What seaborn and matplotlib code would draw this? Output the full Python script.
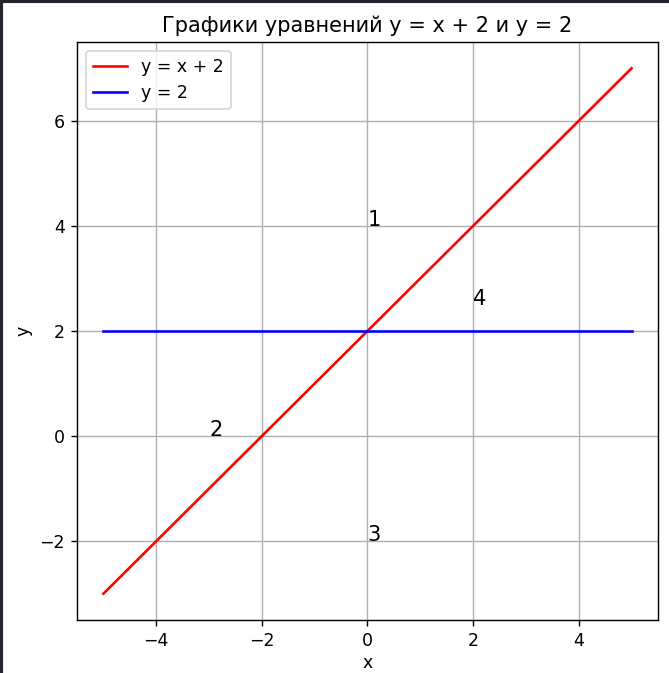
import matplotlib
matplotlib.use("Agg")
import matplotlib.pyplot as plt
import seaborn as sns
import pandas as pd
from matplotlib.lines import Line2D

x_vals = [-5, 0, 5]
y_line = [-3, 2, 7]
y_const = [2, 2, 2]

region_labels = ["1", "2", "3", "4"]
region_x = [0, -3, 0, 2]
region_y = [4, 0, -2, 2.5]

df = pd.DataFrame({"x": x_vals, "y1": y_line, "y2": y_const})

# screenshot was rendered at ~125 dpi
fig = plt.figure(figsize=(669 / 125, 673 / 125), dpi=125)
ax = fig.add_axes([0.1151, 0.0788, 0.8684, 0.8588])

sns.lineplot(data=df, x="x", y="y1", color="red", label="y = x + 2", ax=ax)
sns.lineplot(data=df, x="x", y="y2", color="blue", label="y = 2", ax=ax)

for lab, tx, ty in zip(region_labels, region_x, region_y):
    ax.text(tx, ty, lab, fontsize=12)

ax.set_title("Графики уравнений y = x + 2 и y = 2")
ax.set_xlabel("x", labelpad=2.5)
ax.set_ylabel("y")
ax.grid(True)
ax.legend(loc="upper left")

# dark screenshot frame on left and top
fig.add_artist(Line2D([0.002, 0.002], [0, 1], transform=fig.transFigure, color="#22252b", linewidth=1.8))
fig.add_artist(Line2D([0, 1], [0.998, 0.998], transform=fig.transFigure, color="#22252b", linewidth=1.8))

fig.savefig("out.png", dpi=125)
